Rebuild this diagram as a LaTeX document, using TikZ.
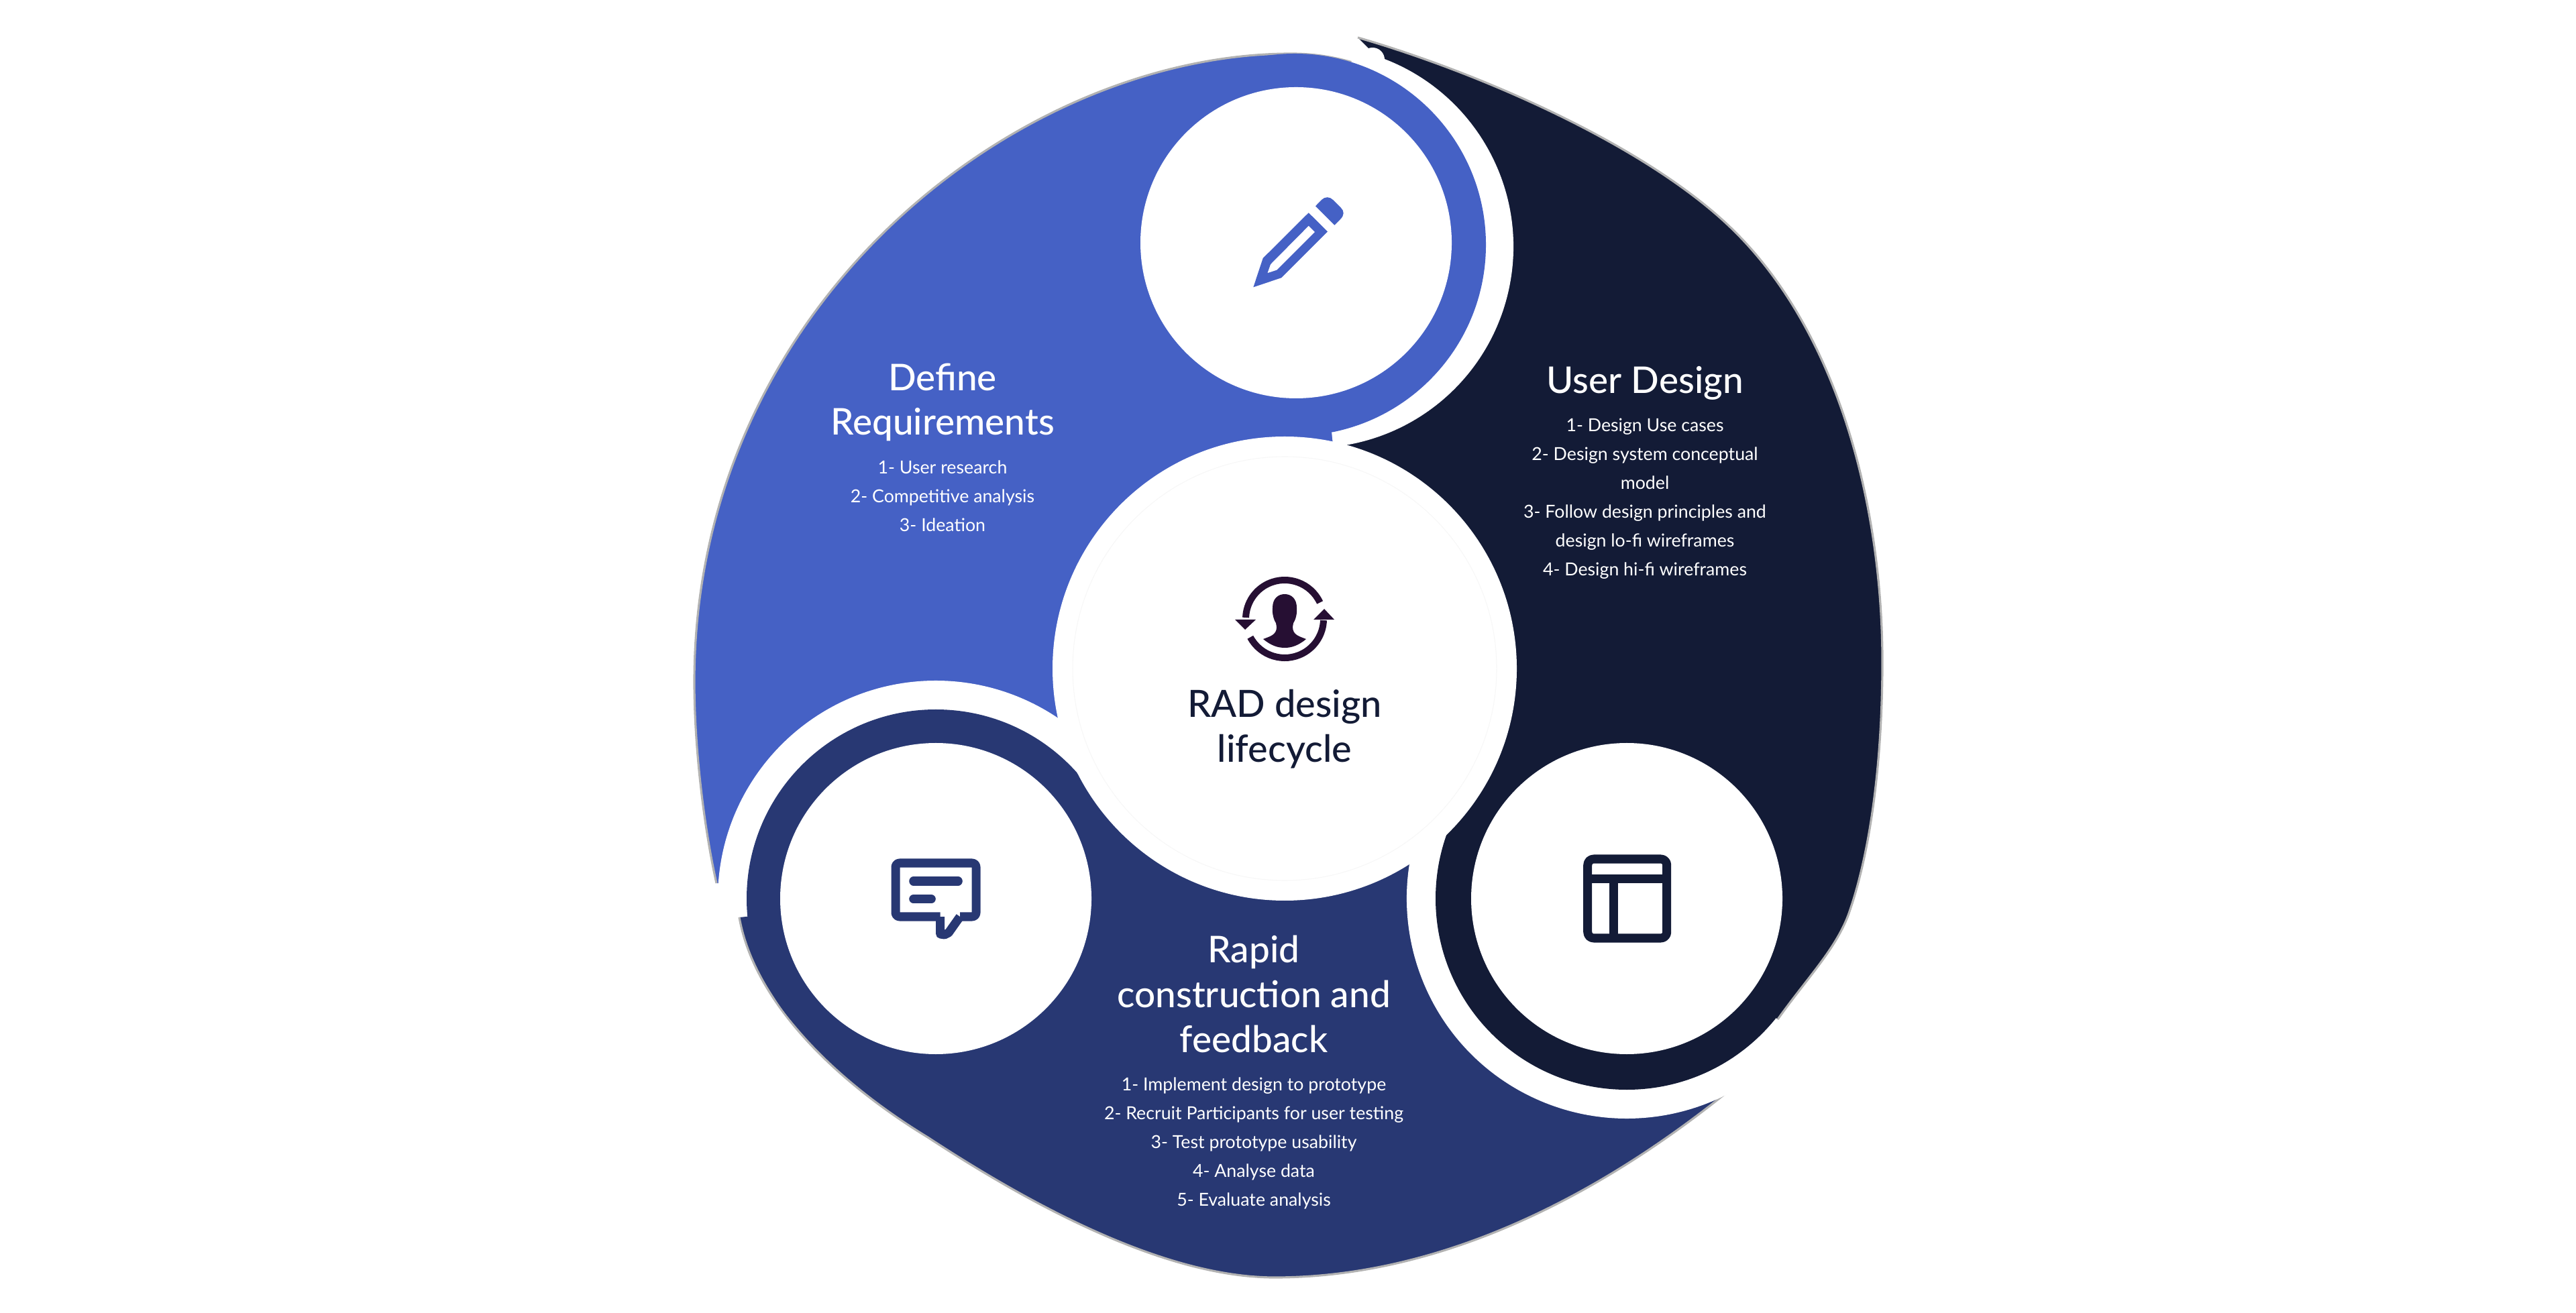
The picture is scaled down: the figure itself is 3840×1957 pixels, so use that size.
\documentclass[tikz,border=0pt]{standalone}
\usepackage{fontspec}
\setmainfont{Lato}
\newfontfamily\headfont{Lato Medium}
\usetikzlibrary{calc}

\definecolor{blueA}{HTML}{4561C5}
\definecolor{navyA}{HTML}{283873}
\definecolor{darkA}{HTML}{131B36}
\definecolor{plumA}{HTML}{260F33}

\begin{document}
\begin{tikzpicture}[x=0.01cm, y=0.01cm]
  % -----------------------------
  % STYLES
  % -----------------------------
  \tikzset{
    band/.style={draw=white, line width=0.44cm, line cap=round},
    rim/.style={gray!60, line width=0.9pt},
    hole/.style={fill=white},
    iconline/.style={line width=0.13cm, line join=round},
    headtxt/.style={anchor=base, text=white, font=\headfont\fontsize{15.6}{18}\selectfont},
    itemtxt/.style={anchor=base, text=white, font=\fontsize{7.6}{10}\selectfont},
    midtxt/.style={anchor=base, text=darkA, font=\headfont\fontsize{15.9}{18}\selectfont},
  }

  % outer edges of the three regions
  \def\blueEdge{(1068,640) .. controls (1050,720) and (1035,840) .. (1035,940)
    .. controls (1035,1502) and (1516,1877) .. (1925,1877)
    .. controls (1965,1877) and (2000,1870) .. (2035,1858)}
  \def\darkEdge{(2024,1901) .. controls (2197,1851) and (2440,1747) .. (2572,1625)
    .. controls (2741,1469) and (2806,1200) .. (2806,970)
    .. controls (2806,830) and (2790,690) .. (2755,592)
    .. controls (2735,540) and (2695,500) .. (2650,437)}
  \def\navyEdge{(1102,589) .. controls (1125,460) and (1250,342) .. (1383,261)
    .. controls (1525,168) and (1730,52) .. (1900,52)
    .. controls (2150,52) and (2390,175) .. (2595,345)}

  \useasboundingbox (0,0) rectangle (3840,1957);

  % -----------------------------
  % OUTER REGIONS
  % -----------------------------
  \fill[blueA] \blueEdge -- (1932,1595) -- (2005,1305) -- (1915,960) -- (1395,617) -- cycle;
  \draw[rim] \blueEdge;

  \fill[darkA] \darkEdge -- (2425,617) -- (1915,960) -- (2010,1300) -- (2040,1600) -- (2055,1870) -- cycle;
  \draw[rim] \darkEdge;

  \fill[navyA] \navyEdge -- (2425,617) -- (1915,960) -- (1395,617) -- cycle;
  \draw[rim] \navyEdge;

  % -----------------------------
  % WHITE BANDS + RINGS
  % -----------------------------
  \draw[band] (1395,617) ++(181:303) arc[start angle=181, end angle=37, radius=303];
  \fill[navyA] (1395,617) circle (282);

  \draw[band] (2425,617) ++(155:306) arc[start angle=155, end angle=310, radius=306];
  \fill[darkA] (2425,617) circle (285);

  % band of the pencil ring sits off centre and thins out towards the top
  \fill[white] (1956,1589) -- ++(78:300) arc[start angle=78, end angle=-84, radius=300] -- cycle;
  \fill[white] (2046,1868) circle (18);
  \fill[blueA] (1930,1592) circle (285);

  % -----------------------------
  % DISCS
  % -----------------------------
  \fill[hole] (1932,1595) circle (232);
  \fill[hole] (1395,617) circle (232);
  \fill[hole] (2425,617) circle (232);
  \fill[hole] (1915,960) circle (346);
  \draw[black!3, line width=0.3pt] (1915,960) circle (316);

  % -----------------------------
  % ICONS
  % -----------------------------
  % pencil
  \begin{scope}[shift={(1930,1597)}]
    \fill[blueA, even odd rule] (-61.7,-68.3) -- (-20,-54.3) -- (49,14.7) -- (20.7,42.7) -- (-47.3,-25) -- cycle
      (-40.7,-47.3) -- (-26.7,-42.7) -- (30,14) -- (20.7,23.3) -- (-36,-34) -- cycle;
    \fill[blueA] (31,52.7) -- (59.3,24.3) -- (68,33) .. controls (74,39) and (74,45) .. (69,50) -- (57,62) .. controls (52,67) and (45,67) .. (40,62) -- cycle;
  \end{scope}

  % speech bubble
  \begin{scope}[shift={(1395,630)}]
    \draw[navyA, iconline, rounded corners=0.06cm] (6.7,-40) -- (-60,-40) -- (-60,40) -- (60,40) -- (60,-40) -- (36,-40);
    \draw[navyA, iconline] (6.7,-40) -- (6.7,-66) -- (13,-67) -- (19,-64) -- (36,-40);
    \draw[navyA, iconline, line cap=round] (-33.3,13) -- (33.3,13);
    \draw[navyA, iconline, line cap=round] (-33.3,-13.7) -- (-6.7,-13.7);
  \end{scope}

  % layout window
  \begin{scope}[shift={(2425.7,617)}]
    \draw[darkA, iconline, rounded corners=0.09cm] (-59,-59) rectangle (59,59);
    \draw[darkA, iconline] (-59,29.7) -- (59,29.7);
    \draw[darkA, iconline] (-20,29.7) -- (-20,-59);
  \end{scope}

  % person with two turning arrows
  \begin{scope}[shift={(1915,1034)}]
    \draw[plumA, line width=0.1cm] (25:58) arc[start angle=25, end angle=178, radius=58];
    \draw[plumA, line width=0.1cm] (208:58) arc[start angle=208, end angle=358, radius=58];
    \fill[plumA] (-74,-1) -- (-43,-1) -- (-59,-16) -- cycle;
    \fill[plumA] (43,-1) -- (74,-1) -- (59,15) -- cycle;
    \fill[plumA] (-32,-30) .. controls (-20,-40) and (-10,-43) .. (0,-43) .. controls (10,-43) and (20,-40) .. (32,-30)
      .. controls (22,-26) and (12,-24) .. (12,-12) -- (13,-6) .. controls (16,-2) and (19,8) .. (18,17)
      .. controls (18,30) and (10,37) .. (0,37) .. controls (-10,37) and (-18,30) .. (-18,17)
      .. controls (-19,8) and (-16,-2) .. (-13,-6) -- (-12,-12) .. controls (-12,-24) and (-22,-26) .. (-32,-30) -- cycle;
  \end{scope}

  % -----------------------------
  % TEXTS
  % -----------------------------
  \node[midtxt] (midA) at (1915,887) {RAD design};
  \node[midtxt] (midB) at (1915,820) {lifecycle};

  \foreach \t [count=\k] in {Define, Requirements}
    \node[headtxt] (defHead\k) at (1405,{1374-66*(\k-1)}) {\t};
  \foreach \t [count=\k] in {1- User research, 2- Competitive analysis, 3- Ideation}
    \node[itemtxt] (defItem\k) at (1405,{1250-43*(\k-1)}) {\t};

  \node[headtxt] (userHead) at (2452,1370) {User Design};
  \foreach \t [count=\k] in {1- Design Use cases, 2- Design system conceptual, model, 3- Follow design principles and, design lo-fi wireframes, 4- Design hi-fi wireframes}
    \node[itemtxt] (userItem\k) at (2452,{1313-43*(\k-1)}) {\t};

  \foreach \t [count=\k] in {Rapid, construction and, feedback}
    \node[headtxt] (rapHead\k) at (1869,{522-67*(\k-1)}) {\t};
  \foreach \t [count=\k] in {1- Implement design to prototype, 2- Recruit Participants for user testing, 3- Test prototype usability, 4- Analyse data, 5- Evaluate analysis}
    \node[itemtxt] (rapItem\k) at (1869,{331-43*(\k-1)}) {\t};
\end{tikzpicture}
\end{document}
